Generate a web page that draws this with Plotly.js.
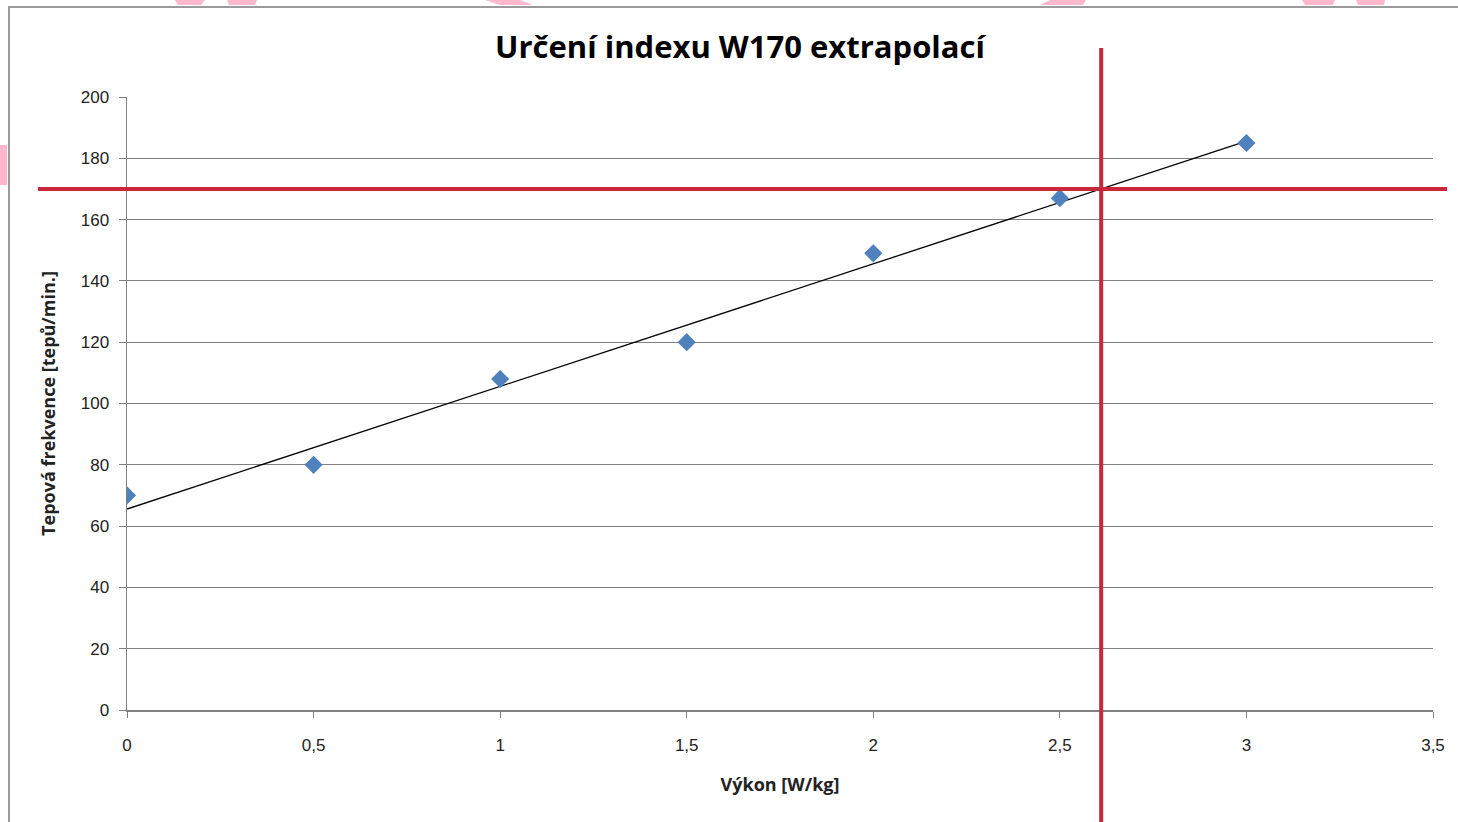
<!DOCTYPE html>
<html>
<head>
<meta charset="utf-8">
<script src="https://cdn.plot.ly/plotly-3.0.1.min.js"></script>
<style>
html,body{margin:0;padding:0;background:#fff;}
#chart{width:1458px;height:822px;}
</style>
</head>
<body>
<div id="chart"></div>
<script>
// Data
const vykon = [0, 0.5, 1, 1.5, 2, 2.5, 3];           // W/kg
const tepovaFrekvence = [70, 80, 108, 120, 149, 167, 185]; // tepů/min
const targetHR = 170;                                  // W170 level
const xTicks = [0, 0.5, 1, 1.5, 2, 2.5, 3, 3.5];
const yTicks = [0, 20, 40, 60, 80, 100, 120, 140, 160, 180, 200];

// Linear trendline (least squares) computed from data
const n = vykon.length;
const mx = vykon.reduce((a, b) => a + b, 0) / n;
const my = tepovaFrekvence.reduce((a, b) => a + b, 0) / n;
let sxy = 0, sxx = 0;
for (let i = 0; i < n; i++) { sxy += (vykon[i] - mx) * (tepovaFrekvence[i] - my); sxx += (vykon[i] - mx) ** 2; }
const slope = sxy / sxx;
const intercept = my - slope * mx;
const trendX = [vykon[0], vykon[n - 1]];
const trendY = trendX.map(x => intercept + slope * x);
const w170 = (targetHR - intercept) / slope;

// pixel -> paper helpers for the frame/decoration (plot area 127..1433 x 97..710)
const px = p => (p - 127) / 1306;
const py = p => (710 - p) / 613;

const pink = '#FFB8CB';
const shapes = [
  // outer chart frame
  {type: 'rect', xref: 'paper', yref: 'paper', x0: px(9), x1: px(1480), y0: py(7), y1: py(900),
   line: {color: '#9A9A9A', width: 2}, fillcolor: 'rgba(0,0,0,0)', layer: 'below'},
  // pink fragments of background page at top
  {type: 'path', xref: 'paper', yref: 'paper', layer: 'below', fillcolor: pink, line: {width: 0},
   path: `M ${px(175)} ${py(0)} L ${px(205)} ${py(0)} L ${px(201)} ${py(5)} L ${px(178)} ${py(5)} Z`},
  {type: 'path', xref: 'paper', yref: 'paper', layer: 'below', fillcolor: pink, line: {width: 0},
   path: `M ${px(227)} ${py(0)} L ${px(257)} ${py(0)} L ${px(255)} ${py(5)} L ${px(229)} ${py(5)} Z`},
  {type: 'path', xref: 'paper', yref: 'paper', layer: 'below', fillcolor: pink, line: {width: 0},
   path: `M ${px(485)} ${py(0)} L ${px(520)} ${py(0)} L ${px(533)} ${py(5)} L ${px(500)} ${py(5)} Z`},
  {type: 'path', xref: 'paper', yref: 'paper', layer: 'below', fillcolor: pink, line: {width: 0},
   path: `M ${px(1050)} ${py(0)} L ${px(1086)} ${py(0)} L ${px(1083)} ${py(5)} L ${px(1040)} ${py(5)} Z`},
  {type: 'path', xref: 'paper', yref: 'paper', layer: 'below', fillcolor: pink, line: {width: 0},
   path: `M ${px(1302)} ${py(0)} L ${px(1335)} ${py(0)} L ${px(1333)} ${py(5)} L ${px(1305)} ${py(5)} Z`},
  {type: 'path', xref: 'paper', yref: 'paper', layer: 'below', fillcolor: pink, line: {width: 0},
   path: `M ${px(1356)} ${py(0)} L ${px(1385)} ${py(0)} L ${px(1384)} ${py(5)} L ${px(1358)} ${py(5)} Z`},
  {type: 'rect', xref: 'paper', yref: 'paper', layer: 'below', fillcolor: pink, line: {width: 0},
   x0: px(0), x1: px(7), y0: py(185), y1: py(145)},
  // red W170 guide lines
  {type: 'line', xref: 'paper', yref: 'y', x0: px(38), x1: px(1447), y0: targetHR, y1: targetHR,
   line: {color: '#C8283A', width: 4}},
  {type: 'line', xref: 'x', yref: 'paper', x0: w170, x1: w170, y0: py(48), y1: py(830),
   line: {color: '#C8283A', width: 4}}
];

const traces = [
  {x: trendX, y: trendY, type: 'scatter', mode: 'lines', line: {color: '#000', width: 1.3},
   hoverinfo: 'skip', showlegend: false},
  {x: vykon, y: tepovaFrekvence, type: 'scatter', mode: 'markers',
   marker: {symbol: 'diamond', size: 14, color: '#4F81BD', line: {width: 0}}, showlegend: false}
];

const tickFont = {family: 'Liberation Sans, Arial, sans-serif', size: 17, color: '#222'};
const layout = {
  width: 1458, height: 822,
  margin: {l: 127, r: 25, t: 97, b: 112},
  paper_bgcolor: '#fff', plot_bgcolor: '#fff',
  separators: ',.',
  showlegend: false,
  title: {text: '<b>Určení indexu W170 extrapolací</b>', xref: 'container', yref: 'container',
          x: 740 / 1458, y: 1 - 47 / 822, xanchor: 'center', yanchor: 'middle',
          font: {family: 'Open Sans, Liberation Sans, sans-serif', size: 31, color: '#000'}},
  xaxis: {range: [0, 3.5], tickvals: xTicks, ticktext: xTicks.map(v => String(v).replace('.', ',')),
          showgrid: false, zeroline: false, showline: true, linecolor: '#808080', linewidth: 1.5,
          ticks: 'outside', ticklen: 6, tickcolor: '#808080', ticklabelstandoff: 13,
          tickfont: tickFont, automargin: false,
          title: {text: '<b>Výkon [W/kg]</b>', standoff: 24,
                  font: {family: 'Open Sans, Liberation Sans, sans-serif', size: 18, color: '#222'}}},
  yaxis: {range: [0, 200], tickvals: yTicks, showgrid: true, gridcolor: '#808080', gridwidth: 1,
          zeroline: false, showline: true, linecolor: '#808080', linewidth: 1.5,
          ticks: 'outside', ticklen: 7, tickcolor: '#808080', ticklabelstandoff: 6,
          tickfont: tickFont, automargin: false,
          title: {text: '<b>Tepová frekvence [tepů/min.]</b>', standoff: 20,
                  font: {family: 'Open Sans, Liberation Sans, sans-serif', size: 18, color: '#222'}}},
  shapes: shapes
};

Plotly.newPlot('chart', traces, layout, {displayModeBar: false, staticPlot: true});
</script>
</body>
</html>
